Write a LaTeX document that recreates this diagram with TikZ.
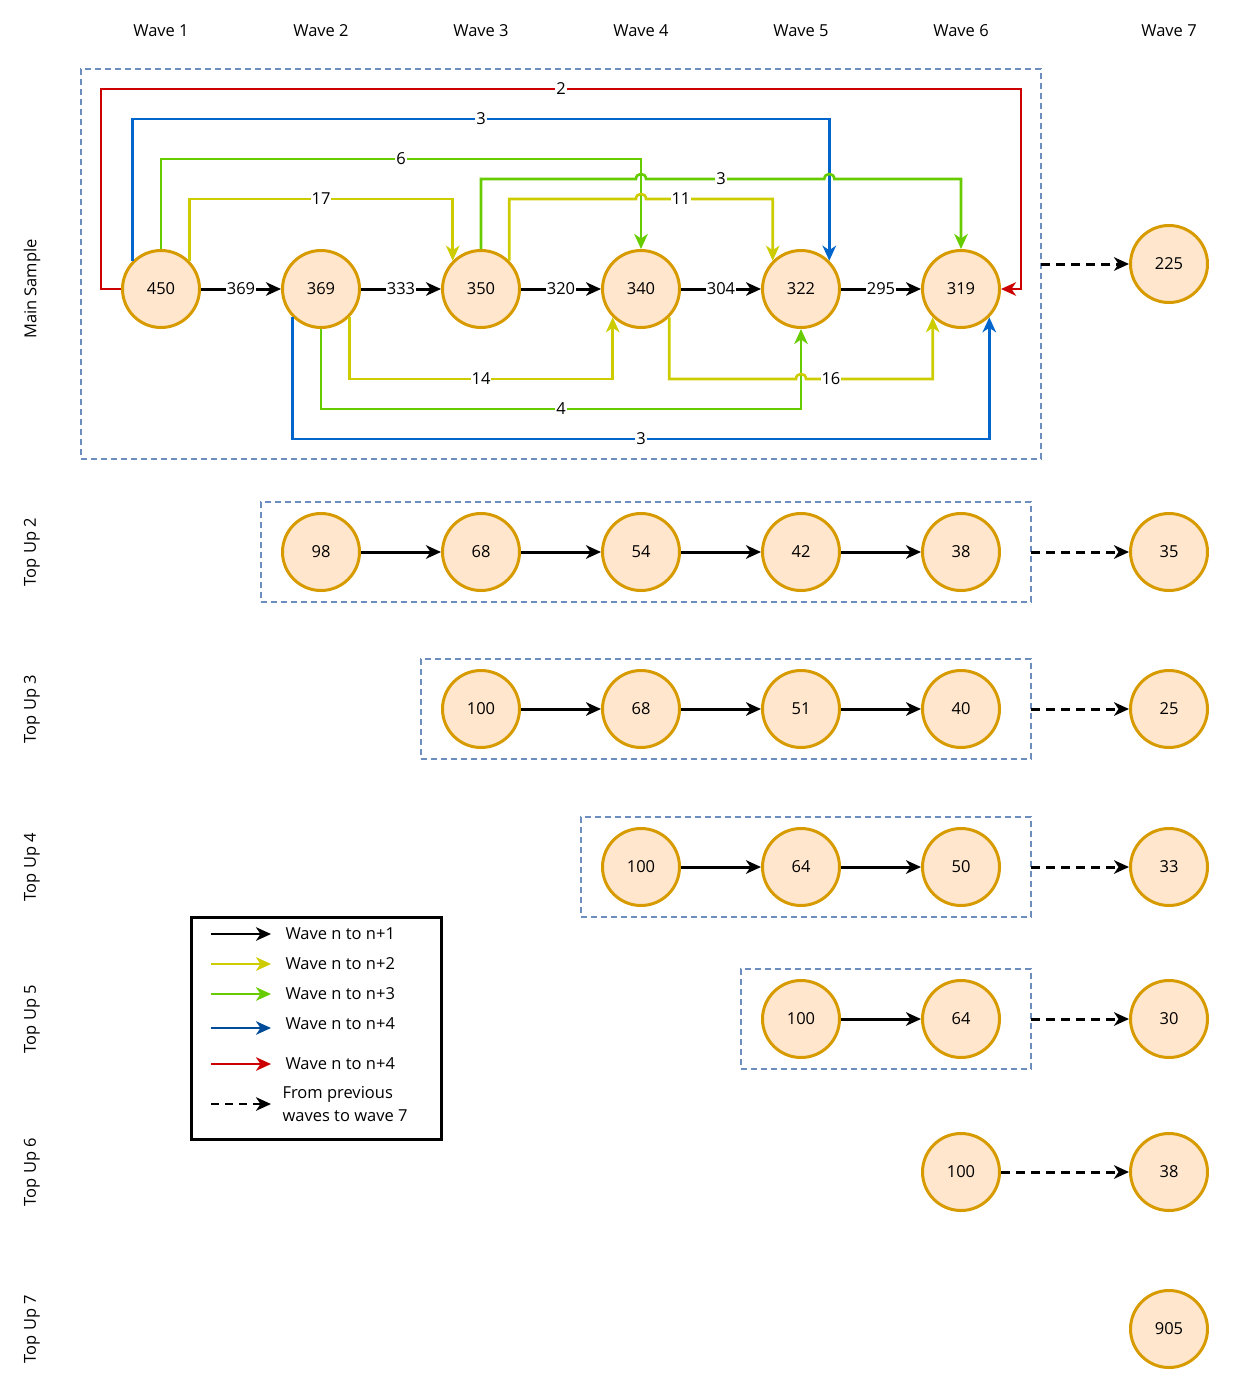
\documentclass[tikz,border=0pt]{standalone}
\usepackage{fontspec}
\setmainfont{Open Sans}
\usetikzlibrary{arrows.meta}
\definecolor{cfill}{HTML}{FFE6CC}
\definecolor{cdraw}{HTML}{D79B00}
\definecolor{cred}{HTML}{CC0000}
\definecolor{cblue}{HTML}{0066CC}
\definecolor{cgreen}{HTML}{66CC00}
\definecolor{cyel}{HTML}{CCCC00}
\definecolor{cbox}{HTML}{6C8EBF}
\definecolor{cblueleg}{HTML}{004C99}
\begin{document}
\begin{tikzpicture}[x=1pt,y=-1pt,
  every node/.style={font=\fontsize{16.5}{21}\selectfont},
  wn/.style={circle, draw=cdraw, fill=cfill, line width=3pt, minimum size=77pt, inner sep=0pt},
  dbox/.style={draw=cbox, line width=1.5pt, dash pattern=on 6pt off 4pt, minimum width=#1, inner sep=0pt, outer sep=0pt},
  tip/.style={-{Stealth[length=15pt,width=13.5pt,inset=4.5pt]}},
  e1/.style={tip, draw=black, line width=3pt},
  ec/.style={tip, draw=#1, line width=2.6pt, line join=miter},
  edash/.style={tip, draw=black, line width=3pt, dash pattern=on 9pt off 6pt},
  lbl/.style={fill=white, inner sep=1pt},
  lg/.style={tip, line width=2.5pt},
  lt/.style={anchor=west, align=left}
]
\useasboundingbox (0,0) rectangle (1232,1391);

% column headers
\node (h1) at (161,31) {Wave 1};
\node (h2) at (321,31) {Wave 2};
\node (h3) at (481,31) {Wave 3};
\node (h4) at (641,31) {Wave 4};
\node (h5) at (801,31) {Wave 5};
\node (h6) at (961,31) {Wave 6};
\node (h7) at (1169,31) {Wave 7};

% row labels
\node[rotate=90] (r1) at (32,289) {Main Sample};
\node[rotate=90] (r2) at (32,552) {Top Up 2};
\node[rotate=90] (r3) at (32,709) {Top Up 3};
\node[rotate=90] (r4) at (32,867) {Top Up 4};
\node[rotate=90] (r5) at (32,1019) {Top Up 5};
\node[rotate=90] (r6) at (32,1172) {Top Up 6};
\node[rotate=90] (r7) at (32,1329) {Top Up 7};

% dashed group boxes
\node[dbox=960pt, minimum height=390pt] (b1) at (561,264) {};
\node[dbox=770pt, minimum height=100pt] (b2) at (646,552) {};
\node[dbox=610pt, minimum height=100pt] (b3) at (726,709) {};
\node[dbox=450pt, minimum height=100pt] (b4) at (806,867) {};
\node[dbox=290pt, minimum height=100pt] (b5) at (886,1019) {};

% main sample nodes
\node[wn] (m1) at (161,289) {450};
\node[wn] (m2) at (321,289) {369};
\node[wn] (m3) at (481,289) {350};
\node[wn] (m4) at (641,289) {340};
\node[wn] (m5) at (801,289) {322};
\node[wn] (m6) at (961,289) {319};
\node[wn] (m7) at (1169,264) {225};

\draw[e1] (m1) -- node[lbl]{369} (m2);
\draw[e1] (m2) -- node[lbl]{333} (m3);
\draw[e1] (m3) -- node[lbl]{320} (m4);
\draw[e1] (m4) -- node[lbl]{304} (m5);
\draw[e1] (m5) -- node[lbl]{295} (m6);

% red n to n+5
\draw[ec=cred] (m1.west) -- (101,289) -- (101,89) -- node[lbl]{2} (1021,89) -- (1021,289) -- (m6.east);
% blue top
\draw[ec=cblue] (m1.135) -- (m1.135 |- 0,119) -- node[lbl]{3} (m5.45 |- 0,119) -- (m5.45);
% green 6
\draw[ec=cgreen] (m1.north) -- (161,159) -- node[lbl]{6} (641,159) -- (m4.north);
% yellow 17
\draw[ec=cyel] (m1.45) -- (m1.45 |- 0,199) -- node[lbl]{17} (m3.135 |- 0,199) -- (m3.135);
% green 3 (with hops)
\draw[ec=cgreen] (m3.north) -- (481,179) -- (636,179) .. controls (636,172.3) and (646,172.3) .. (646,179)
  -- node[lbl,pos=.421]{3} (824.3,179) .. controls (824.3,172.3) and (834.3,172.3) .. (834.3,179)
  -- (961,179) -- (m6.north);
% yellow 11 (with hop)
\draw[ec=cyel] (m3.45) -- (m3.45 |- 0,199) -- (636,199) .. controls (636,192.3) and (646,192.3) .. (646,199)
  -- node[lbl,pos=.276]{11} (m5.135 |- 0,199) -- (m5.135);
% yellow 14
\draw[ec=cyel] (m2.-45) -- (m2.-45 |- 0,379) -- node[lbl]{14} (m4.-135 |- 0,379) -- (m4.-135);
% green 4
\draw[ec=cgreen] (m2.south) -- (321,409) -- node[lbl]{4} (801,409) -- (m5.south);
% blue bottom
\draw[ec=cblue] (m2.-135) -- (m2.-135 |- 0,439) -- node[lbl]{3} (m6.-45 |- 0,439) -- (m6.-45);
% yellow 16 (with hop)
\draw[ec=cyel] (m4.-45) -- (m4.-45 |- 0,379) -- (796,379) .. controls (796,372.3) and (806,372.3) .. (806,379)
  -- node[lbl,pos=.197]{16} (m6.-135 |- 0,379) -- (m6.-135);

\draw[edash] (b1.east) -- (m7);

% top up 2
\node[wn] (a1) at (321,552) {98};
\node[wn] (a2) at (481,552) {68};
\node[wn] (a3) at (641,552) {54};
\node[wn] (a4) at (801,552) {42};
\node[wn] (a5) at (961,552) {38};
\node[wn] (a7) at (1169,552) {35};
\draw[e1] (a1) -- (a2);
\draw[e1] (a2) -- (a3);
\draw[e1] (a3) -- (a4);
\draw[e1] (a4) -- (a5);
\draw[edash] (b2.east) -- (a7);

% top up 3
\node[wn] (c1) at (481,709) {100};
\node[wn] (c2) at (641,709) {68};
\node[wn] (c3) at (801,709) {51};
\node[wn] (c4) at (961,709) {40};
\node[wn] (c7) at (1169,709) {25};
\draw[e1] (c1) -- (c2);
\draw[e1] (c2) -- (c3);
\draw[e1] (c3) -- (c4);
\draw[edash] (b3.east) -- (c7);

% top up 4
\node[wn] (d1) at (641,867) {100};
\node[wn] (d2) at (801,867) {64};
\node[wn] (d3) at (961,867) {50};
\node[wn] (d7) at (1169,867) {33};
\draw[e1] (d1) -- (d2);
\draw[e1] (d2) -- (d3);
\draw[edash] (b4.east) -- (d7);

% top up 5
\node[wn] (f1) at (801,1019) {100};
\node[wn] (f2) at (961,1019) {64};
\node[wn] (f7) at (1169,1019) {30};
\draw[e1] (f1) -- (f2);
\draw[edash] (b5.east) -- (f7);

% top up 6
\node[wn] (g1) at (961,1172) {100};
\node[wn] (g7) at (1169,1172) {38};
\draw[edash] (g1) -- (g7);

% top up 7
\node[wn] (k7) at (1169,1329) {905};

% legend
\node[draw=black, line width=3pt, minimum width=250pt, minimum height=222pt, inner sep=0pt] (leg) at (316,1028) {};
\coordinate (la1) at (211,934); \coordinate (lb1) at (271,934);
\coordinate (la2) at (211,964); \coordinate (lb2) at (271,964);
\coordinate (la3) at (211,994); \coordinate (lb3) at (271,994);
\coordinate (la4) at (211,1028); \coordinate (lb4) at (271,1028);
\coordinate (la5) at (211,1064); \coordinate (lb5) at (271,1064);
\coordinate (la6) at (211,1104); \coordinate (lb6) at (271,1104);
\draw[lg, draw=black] (la1) -- (lb1);
\draw[lg, draw=cyel] (la2) -- (lb2);
\draw[lg, draw=cgreen] (la3) -- (lb3);
\draw[lg, draw=cblueleg] (la4) -- (lb4);
\draw[lg, draw=cred] (la5) -- (lb5);
\draw[lg, draw=black, dash pattern=on 8pt off 6pt] (la6) -- (lb6);
\node[lt] (lt1) at (282,934) {Wave n to n+1};
\node[lt] (lt2) at (282,964) {Wave n to n+2};
\node[lt] (lt3) at (282,994) {Wave n to n+3};
\node[lt] (lt4) at (282,1024) {Wave n to n+4};
\node[lt] (lt5) at (282,1064) {Wave n to n+4};
\node[lt, font=\fontsize{16.5}{23}\selectfont] (lt6) at (279,1104.5) {From previous\\waves to wave 7};
\end{tikzpicture}
\end{document}
